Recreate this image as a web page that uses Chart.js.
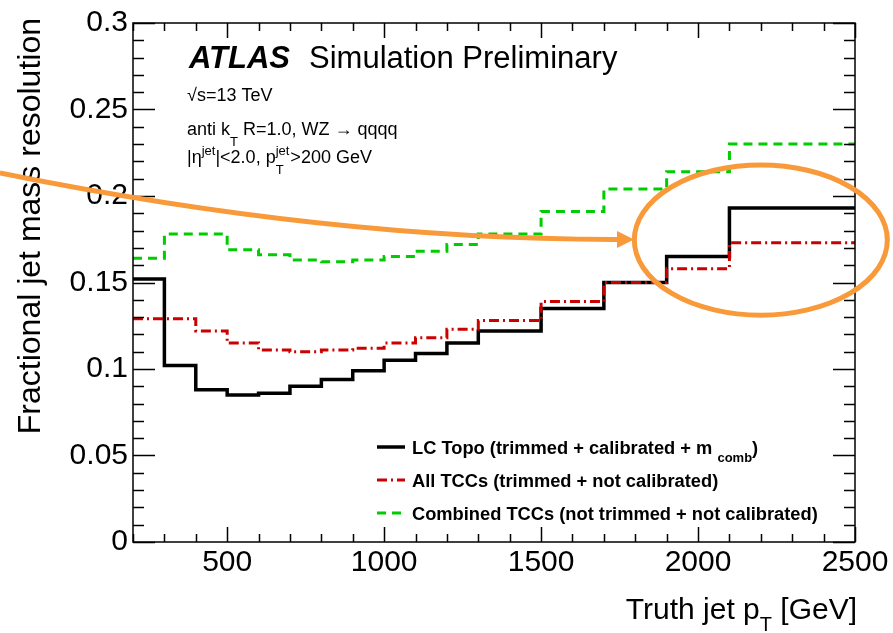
<!DOCTYPE html>
<html>
<head>
<meta charset="utf-8">
<script src="https://cdn.jsdelivr.net/npm/chart.js@4.4.0/dist/chart.umd.min.js"></script>
<style>
    html, body { margin: 0; padding: 0; background: #fff; }
</style>
</head>
<body>
<canvas id="resolutionChart" width="893" height="633"></canvas>
<script>
// bin edges in truth jet pT [GeV], one value per bin
var binEdges = [200, 300, 400, 500, 600, 700, 800, 900, 1000, 1100, 1200, 1300, 1500, 1700, 1900, 2100, 2500];
var lcTopo = [0.152, 0.102, 0.088, 0.085, 0.086, 0.090, 0.094, 0.099, 0.105, 0.109, 0.115, 0.122, 0.135, 0.150, 0.165, 0.193];
var allTCC = [0.129, 0.129, 0.122, 0.115, 0.111, 0.110, 0.111, 0.112, 0.115, 0.118, 0.123, 0.128, 0.139, 0.150, 0.158, 0.173];
var combTCC = [0.164, 0.178, 0.178, 0.169, 0.166, 0.163, 0.162, 0.163, 0.165, 0.168, 0.172, 0.178, 0.191, 0.204, 0.214, 0.230];

var xTicks = [500, 1000, 1500, 2000, 2500];
var xTickLabels = ["500", "1000", "1500", "2000", "2500"];
var yTicks = [0, 0.05, 0.1, 0.15, 0.2, 0.25, 0.3];
var yTickLabels = ["0", "0.05", "0.1", "0.15", "0.2", "0.25", "0.3"];

var FONT = "'Liberation Sans', Arial, Helvetica, sans-serif";
var ORANGE = "#f89a3a";

function stepData(vals) {
    var pts = [];
    for (var i = 0; i < vals.length; i++) {
        pts.push({ x: binEdges[i], y: vals[i] });
    }
    pts.push({ x: binEdges[binEdges.length - 1], y: vals[vals.length - 1] });
    return pts;
}

// draws a run of text pieces: [text, size, dy, bold]
function drawPieces(ctx, x, y, pieces) {
    pieces.forEach(function(p) {
        ctx.font = (p[3] ? "bold " : "") + p[1] + "px " + FONT;
        ctx.fillText(p[0], x, y + p[2]);
        x += ctx.measureText(p[0]).width;
    });
    return x;
}

var atlasPlugin = {
    id: 'atlasStyle',
    afterDatasetsDraw: function(chart) {
        var ctx = chart.ctx, a = chart.chartArea;
        var xs = chart.scales.x, ys = chart.scales.y;
        ctx.save();
        ctx.strokeStyle = "#000";
        ctx.lineWidth = 1.5;
        ctx.strokeRect(a.left, a.top, a.right - a.left, a.bottom - a.top);
        ctx.beginPath();
        for (var i = 0; i <= 30; i++) {
            var py = Math.round(ys.getPixelForValue(i / 100)) + 0.5;
            var len = (i % 5 === 0) ? 22 : 11;
            ctx.moveTo(a.left, py); ctx.lineTo(a.left + len, py);
            ctx.moveTo(a.right, py); ctx.lineTo(a.right - len, py);
        }
        for (var v = 200; v <= 2500; v += 100) {
            var px = Math.round(xs.getPixelForValue(v)) + 0.5;
            var l2 = (v % 500 === 0) ? 15 : 8;
            ctx.moveTo(px, a.bottom); ctx.lineTo(px, a.bottom - l2);
            ctx.moveTo(px, a.top); ctx.lineTo(px, a.top + l2);
        }
        ctx.stroke();
        ctx.restore();
    },
    afterDraw: function(chart) {
        var ctx = chart.ctx, a = chart.chartArea;
        var xs = chart.scales.x, ys = chart.scales.y;
        ctx.save();
        ctx.fillStyle = "#000";
        ctx.textAlign = "left";
        ctx.textBaseline = "alphabetic";

        // axis titles
        ctx.save();
        ctx.translate(40, 18);
        ctx.rotate(-Math.PI / 2);
        ctx.textAlign = "right";
        ctx.font = "32px " + FONT;
        ctx.fillText("Fractional jet mass resolution", 0, 0);
        ctx.restore();

        ctx.font = "30px " + FONT;
        var w1 = ctx.measureText("Truth jet p").width;
        var w3 = ctx.measureText(" [GeV]").width;
        ctx.font = "20px " + FONT;
        var w2 = ctx.measureText("T").width;
        drawPieces(ctx, 857 - w1 - w2 - w3, 619, [["Truth jet p", 30, 0], ["T", 20, 12], [" [GeV]", 30, 0]]);

        // ATLAS label
        ctx.font = "italic bold 31px " + FONT;
        ctx.fillText("ATLAS", 189, 68);
        ctx.font = "31px " + FONT;
        ctx.fillText("Simulation Preliminary", 309, 68);

        drawPieces(ctx, 187, 101, [["\u221As=13 TeV", 18, 0]]);
        drawPieces(ctx, 187, 135, [["anti k", 18, 0], ["T", 13, 11], [" R=1.0, WZ \u2192 qqqq", 18, 0]]);
        var xp = drawPieces(ctx, 187, 163, [["|\u03B7", 18, 0], ["jet", 13, -8], ["|<2.0, p", 18, 0]]);
        ctx.font = "13px " + FONT;
        ctx.fillText("T", xp, 174);
        ctx.fillText("jet", xp, 155);
        var wj = ctx.measureText("jet").width;
        drawPieces(ctx, xp + wj + 1, 163, [[">200 GeV", 18, 0]]);

        // legend
        var rows = [
            { color: "#000", dash: [], width: 3.5, y: 447 },
            { color: "#cc0000", dash: [10, 4, 2, 4], width: 3, y: 480 },
            { color: "#00cc00", dash: [9, 6], width: 3, y: 513 }
        ];
        rows.forEach(function(r) {
            ctx.beginPath();
            ctx.strokeStyle = r.color;
            ctx.lineWidth = r.width;
            ctx.setLineDash(r.dash);
            ctx.moveTo(377, r.y);
            ctx.lineTo(405, r.y);
            ctx.stroke();
        });
        ctx.setLineDash([]);
        drawPieces(ctx, 412, 454, [["LC Topo (trimmed + calibrated + m ", 18.3, 0, true], ["comb", 13, 8, true], [")", 18.3, 0, true]]);
        drawPieces(ctx, 412, 487, [["All TCCs (trimmed + not calibrated)", 18.3, 0, true]]);
        drawPieces(ctx, 412, 520, [["Combined TCCs (not trimmed + not calibrated)", 18.3, 0, true]]);

        // orange highlight: curved arrow and ellipse
        ctx.strokeStyle = ORANGE;
        ctx.fillStyle = ORANGE;
        ctx.lineWidth = 5;
        ctx.beginPath();
        ctx.moveTo(xs.getPixelForValue(-224), ys.getPixelForValue(0.2133));
        ctx.quadraticCurveTo(xs.getPixelForValue(828), ys.getPixelForValue(0.1746),
                             xs.getPixelForValue(1745), ys.getPixelForValue(0.1749));
        ctx.stroke();
        var tipX = xs.getPixelForValue(1796), tipY = ys.getPixelForValue(0.1749);
        ctx.beginPath();
        ctx.moveTo(tipX, tipY);
        ctx.lineTo(tipX - 17, tipY - 8.5);
        ctx.lineTo(tipX - 17, tipY + 8.5);
        ctx.closePath();
        ctx.fill();

        var cx = xs.getPixelForValue(2200), cy = ys.getPixelForValue(0.1745);
        var rx = xs.getPixelForValue(2200 + 403) - cx;
        var ry = cy - ys.getPixelForValue(0.1745 + 0.0434);
        ctx.beginPath();
        ctx.ellipse(cx, cy, rx, ry, 0, 0, Math.PI * 2);
        ctx.stroke();
        ctx.restore();
    }
};

var ctx = document.getElementById("resolutionChart");

var resolutionChart = new Chart(ctx, {
    type: 'line',
    data: {
        datasets: [
            {
                label: "LC Topo",
                data: stepData(lcTopo),
                borderColor: "#000",
                borderWidth: 3.5,
                order: 3
            },
            {
                label: "All TCCs",
                data: stepData(allTCC),
                borderColor: "#cc0000",
                borderWidth: 3,
                borderDash: [10, 4, 2, 4],
                order: 1
            },
            {
                label: "Combined TCCs",
                data: stepData(combTCC),
                borderColor: "#00cc00",
                borderWidth: 3,
                borderDash: [9, 6],
                order: 2
            }
        ]
    },
    options: {
        responsive: false,
        animation: false,
        elements: {
            line: { stepped: 'before', fill: false, tension: 0 },
            point: { radius: 0, hoverRadius: 0 }
        },
        layout: { padding: { top: 23, right: 38, left: 0, bottom: 0 } },
        plugins: {
            legend: { display: false },
            tooltip: { enabled: false }
        },
        scales: {
            x: {
                type: 'linear',
                min: 200,
                max: 2500,
                grid: { display: false, drawTicks: false },
                border: { display: false },
                afterBuildTicks: function(s) {
                    s.ticks = xTicks.map(function(v) { return { value: v }; });
                },
                afterFit: function(s) { s.height = 91; },
                ticks: {
                    font: { family: FONT, size: 30 },
                    color: "#000",
                    padding: 3,
                    maxRotation: 0,
                    autoSkip: false,
                    callback: function(v, i) { return xTickLabels[i]; }
                }
            },
            y: {
                type: 'linear',
                min: 0,
                max: 0.3,
                grid: { display: false, drawTicks: false },
                border: { display: false },
                afterBuildTicks: function(s) {
                    s.ticks = yTicks.map(function(v) { return { value: v }; });
                },
                afterFit: function(s) { s.width = 133; },
                ticks: {
                    font: { family: FONT, size: 30 },
                    color: "#000",
                    padding: 5,
                    callback: function(v, i) { return yTickLabels[i]; }
                }
            }
        }
    },
    plugins: [atlasPlugin]
});
</script>
</body>
</html>
